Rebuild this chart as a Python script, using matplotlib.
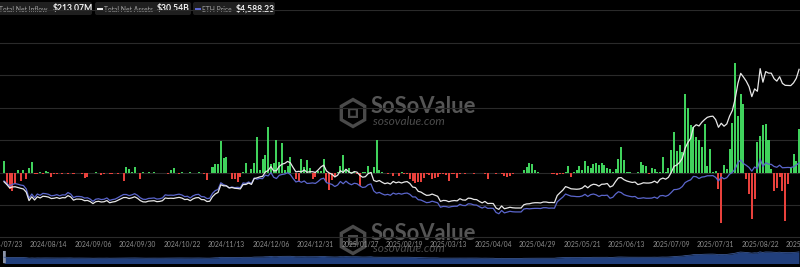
import matplotlib
matplotlib.use("Agg")
import matplotlib.pyplot as plt
import matplotlib.transforms as mtransforms
from matplotlib.patches import FancyBboxPatch, Rectangle, RegularPolygon

# ---------------- data ----------------
# daily total net inflow, $M (one value per trading day, 2024/07/23 .. 2025/09/12)
flows = [
    107, -113, -152, -163, -98, 27, -77, 25, -58, 46,
    98, -12, -8, 5, -6, 22, 8, -40, -10, -6,
    3, -5, -4, -8, 2, -5, -4, 3, -6, -43,
    -37, -2, 3, 5, -3, -15, -5, 3, -9, -5,
    -3, -6, -4, -77, 58, 40, 5, 55, 2, -52,
    8, 4, 6, 2, 8, -3, 3, 4, 2, -10,
    25, 43, 4, -5, 10, -3, 3, 5, 2, 4,
    5, 1, -5, -63, 0, 52, 80, 86, 295, 136,
    147, -3, -60, -55, -81, -40, 5, 91, 3, 40,
    91, 333, 24, 133, 168, 428, 84, 95, 306, 102,
    274, 24, 60, 146, 3, -60, -75, 131, 54, 117,
    48, -55, -36, 15, 20, 129, -87, -159, -68, -40,
    5, 60, 166, 40, 45, 5, 10, -10, -117, 10,
    5, 68, 10, 55, 308, 25, 10, 4, -8, 3,
    -25, 2, -25, 5, -5, -8, -55, -70, -95, -85,
    -80, -50, -10, -15, -55, -50, -40, -8, -5, -15,
    -70, -10, -5, -50, -5, 3, -5, -3, 2, -8,
    -4, 3, -3, -6, -52, -4, 3, -6, -3, -10,
    -30, -33, -25, -5, 4, 2, 3, 25, 55, 92,
    80, 30, 5, -4, 2, -3, 3, -12, -10, -15,
    -8, -12, 5, 62, -37, 8, 25, 60, 30, 110,
    60, 45, 82, 88, 78, 92, 70, 50, 40, 5,
    40, 125, 240, 120, 5, 8, 3, -3, 5, 100,
    77, 62, -8, 46, 40, 5, 10, 148, 8, 45,
    211, 383, 205, 259, 192, 727, 602, 440, 420, 330,
    300, 240, 453, 65, 219, 6, 17, -152, -465, 73,
    35, 222, 461, 1019, 524, 729, 640, -59, -197, -422,
    -240, 288, 338, 444, 455, 307, 39, -165, -135, -38,
    -167, -447, -97, 44, 172, 113, 406,
]

# total net assets, $B
assets = [
    9.92, 9.42, 8.81, 8.96, 9.00, 8.86, 8.72, 8.58, 8.01, 6.46,
    7.16, 6.57, 7.16, 6.94, 7.26, 7.21, 7.10, 6.84, 6.89, 7.02,
    6.84, 7.00, 6.97, 7.37, 7.13, 6.54, 6.73, 6.73, 6.68, 6.44,
    6.49, 6.28, 5.91, 6.25, 6.33, 6.20, 6.25, 6.47, 6.07, 6.20,
    6.28, 6.52, 6.78, 7.02, 7.02, 6.84, 6.97, 7.16, 6.89, 6.47,
    6.23, 6.20, 6.36, 6.39, 6.44, 6.26, 6.31, 6.44, 6.94, 6.86,
    6.89, 6.86, 6.97, 7.05, 6.92, 6.65, 6.71, 6.44, 6.78, 6.97,
    7.02, 6.65, 6.63, 6.29, 6.34, 7.18, 7.69, 7.96, 9.37, 9.17,
    9.16, 8.78, 8.86, 8.72, 8.68, 8.60, 9.41, 9.42, 9.68, 9.43,
    10.50, 10.63, 10.81, 10.90, 11.71, 11.98, 12.69, 11.91, 11.94, 12.72,
    13.15, 13.29, 13.65, 13.39, 12.52, 11.73, 11.83, 11.73, 12.08, 11.66,
    11.76, 11.76, 11.62, 12.08, 12.64, 12.96, 11.90, 11.52, 11.28, 10.80,
    11.11, 11.94, 11.62, 12.21, 11.75, 11.47, 11.79, 11.68, 11.10, 10.75,
    10.85, 11.41, 11.62, 10.16, 9.96, 10.15, 9.82, 9.56, 9.71, 9.49,
    9.97, 9.72, 9.87, 9.69, 9.87, 9.95, 9.60, 8.95, 8.85, 8.16,
    8.02, 7.69, 7.42, 7.46, 7.66, 7.45, 7.25, 6.32, 6.49, 6.46,
    6.26, 6.40, 6.47, 6.41, 6.81, 6.57, 6.54, 6.91, 6.87, 6.67,
    6.64, 6.31, 6.04, 6.31, 5.92, 5.95, 5.92, 5.10, 4.84, 5.48,
    4.96, 5.09, 5.23, 5.14, 5.10, 5.10, 5.10, 5.70, 5.85, 5.88,
    6.01, 6.07, 6.07, 6.03, 6.20, 6.20, 6.10, 6.12, 6.08, 7.39,
    7.90, 8.37, 9.03, 8.85, 8.62, 8.59, 8.54, 8.59, 8.76, 9.20,
    8.80, 9.24, 9.46, 9.39, 9.11, 9.46, 9.48, 9.60, 8.95, 9.18,
    9.97, 10.63, 10.69, 10.30, 10.06, 9.91, 9.79, 9.87, 9.40, 9.53,
    9.73, 9.68, 9.68, 9.77, 10.03, 9.71, 10.36, 10.59, 10.39, 10.73,
    11.61, 12.74, 12.99, 13.45, 14.22, 16.06, 17.12, 17.89, 19.93, 20.38,
    20.15, 20.83, 21.32, 21.74, 21.89, 21.95, 21.31, 19.91, 20.65, 20.11,
    20.53, 21.96, 23.00, 25.11, 27.97, 29.81, 29.12, 28.37, 27.37, 25.54,
    26.95, 26.52, 30.67, 28.19, 30.13, 29.86, 29.84, 28.84, 28.38, 29.19,
    27.97, 27.61, 27.58, 27.56, 28.06, 28.90, 30.54,
]

# ETH price, $
price = [
    3480, 3340, 3170, 3270, 3320, 3280, 3230, 3200, 2990, 2420,
    2680, 2460, 2680, 2600, 2720, 2700, 2660, 2570, 2590, 2640,
    2570, 2630, 2620, 2770, 2680, 2460, 2530, 2530, 2510, 2430,
    2450, 2370, 2230, 2360, 2390, 2340, 2360, 2440, 2290, 2340,
    2370, 2460, 2560, 2650, 2650, 2580, 2630, 2700, 2600, 2450,
    2360, 2350, 2410, 2420, 2440, 2370, 2390, 2440, 2630, 2600,
    2610, 2600, 2640, 2670, 2620, 2520, 2540, 2440, 2570, 2640,
    2660, 2520, 2510, 2400, 2420, 2720, 2890, 2960, 3370, 3250,
    3190, 3060, 3110, 3070, 3090, 3070, 3360, 3330, 3420, 3320,
    3660, 3590, 3640, 3620, 3840, 3790, 3990, 3710, 3630, 3830,
    3880, 3910, 3990, 3880, 3630, 3420, 3470, 3400, 3480, 3330,
    3340, 3360, 3330, 3450, 3600, 3650, 3380, 3320, 3270, 3140,
    3230, 3450, 3310, 3470, 3330, 3250, 3340, 3310, 3180, 3080,
    3110, 3250, 3300, 2870, 2730, 2780, 2690, 2620, 2660, 2600,
    2740, 2670, 2720, 2670, 2720, 2740, 2660, 2500, 2500, 2330,
    2310, 2230, 2150, 2170, 2240, 2190, 2140, 1870, 1920, 1910,
    1870, 1910, 1930, 1930, 2050, 1980, 1970, 2080, 2070, 2010,
    2000, 1900, 1820, 1900, 1800, 1810, 1800, 1550, 1470, 1670,
    1520, 1570, 1620, 1590, 1580, 1580, 1580, 1760, 1790, 1770,
    1790, 1800, 1800, 1790, 1840, 1840, 1810, 1820, 1810, 2200,
    2350, 2490, 2680, 2610, 2550, 2540, 2520, 2520, 2560, 2660,
    2530, 2640, 2680, 2630, 2530, 2600, 2590, 2610, 2420, 2480,
    2680, 2820, 2770, 2640, 2580, 2540, 2510, 2530, 2410, 2420,
    2450, 2420, 2420, 2430, 2490, 2410, 2570, 2590, 2540, 2610,
    2770, 2950, 2960, 3010, 3140, 3380, 3480, 3550, 3760, 3740,
    3630, 3720, 3740, 3800, 3800, 3810, 3700, 3480, 3720, 3610,
    3680, 3900, 4000, 4220, 4600, 4770, 4550, 4440, 4310, 4080,
    4340, 4230, 4830, 4370, 4600, 4510, 4500, 4370, 4320, 4450,
    4290, 4300, 4310, 4300, 4350, 4460, 4588.23,
]

tick_labels = ["2024/07/23", "2024/08/14", "2024/09/06", "2024/09/30", "2024/10/22",
               "2024/11/13", "2024/12/06", "2024/12/31", "2025/01/27", "2025/02/19",
               "2025/03/13", "2025/04/04", "2025/04/29", "2025/05/21", "2025/06/13",
               "2025/07/09", "2025/07/31", "2025/08/22", "2025/09/16"]
tick_step = 16

legend_items = [("Total Net Inflow", "$213.07M"), ("Total Net Assets", "$30.54B"),
                ("ETH Price", "$4,588.23")]

# ---------------- style ----------------
BG = "#000000"
GREEN = "#40d25c"
RED = "#e8413c"
WHITE_LINE = "#e8e8e8"
BLUE_LINE = "#5b66cc"
GRID = "#2a2a2a"
FONT = ["Lato", "DejaVu Sans"]

W, H = 800, 267
fig = plt.figure(figsize=(W / 100, H / 100), dpi=100, facecolor=BG)


def fy(py):
    return 1 - py / H


# background overlay in pixel coordinates (legend, watermark)
bg = fig.add_axes([0, 0, 1, 1], zorder=0)
bg.set_xlim(0, W)
bg.set_ylim(H, 0)
bg.axis("off")
bg.set_facecolor(BG)

# watermarks
for dy in (0, 127):
    bg.add_patch(RegularPolygon((353, 113 + dy), 6, radius=13.5, orientation=0,
                                fill=False, edgecolor="#4a4a4a", lw=2.4))
    bg.add_patch(RegularPolygon((353, 113 + dy), 4, radius=5.5, orientation=0.785,
                                fill=False, edgecolor="#4a4a4a", lw=1.6))
    bg.text(371, 106.5 + dy, "SoSoValue", fontsize=15.8, fontweight="bold",
            color="#555555", family=FONT, ha="left", va="center")
    bg.text(373, 121.5 + dy, "sosovalue.com", fontsize=8.6, style="italic",
            color="#4c4c4c", family=FONT, ha="left", va="center")

# legend boxes
boxes = [(-4, 92), (95, 191), (193, 275)]
for (x0, x1) in boxes:
    bg.add_patch(FancyBboxPatch((x0, 2), x1 - x0, 13,
                                boxstyle="round,pad=0,rounding_size=2",
                                facecolor="#1f1f1f", edgecolor="none"))
lab_x = [-1, 104.5, 202.5]
val_x = [52.5, 157, 236]
dash_cols = [None, WHITE_LINE, BLUE_LINE]
for k, (lab, val) in enumerate(legend_items):
    bg.text(lab_x[k], 9, lab, fontsize=4.9, color="#a3a3a3", family=FONT,
            ha="left", va="center")
    bg.text(val_x[k], 9, val, fontsize=6.2, color="#f2f2f2", fontweight="bold",
            family=FONT, ha="left", va="center")
    if dash_cols[k]:
        bg.add_patch(Rectangle((lab_x[k] - 7.5, 7.8), 5.5, 2.4,
                               facecolor=dash_cols[k], edgecolor="none"))

# ---------------- main chart ----------------
ax = fig.add_axes([0, fy(237), 1, (237 - 10) / H], zorder=1)
ax.set_facecolor("none")
n = len(flows)
x = list(range(n))
ax.set_xlim(-4 / 2.78, 796 / 2.78)
ax.set_ylim(-590.8, 1504.6)
ax.set_yticks([-300, 0, 300, 600, 900, 1200, 1500])
ax.grid(axis="y", color=GRID, lw=0.8, zorder=0)
ax.set_axisbelow(True)
ax.tick_params(length=0, labelleft=False, labelbottom=False)
for s in ("top", "left", "right"):
    ax.spines[s].set_visible(False)
ax.spines["bottom"].set_color(GRID)
ax.spines["bottom"].set_linewidth(0.8)
ax.set_xticks([])

bar_colors = [GREEN if v >= 0 else RED for v in flows]
ax.bar(x, flows, width=0.72, color=bar_colors, linewidth=0, zorder=2)

ax3 = ax.twinx()
ax3.set_ylim(43, 13969)
ax3.plot(x, price, color=BLUE_LINE, lw=0.9, zorder=3)
ax3.axis("off")

ax2 = ax.twinx()
ax2.set_ylim(-0.22, 41.43)
ax2.plot(x, assets, color=WHITE_LINE, lw=0.9, zorder=4)
ax2.axis("off")

# x tick labels
trans = mtransforms.blended_transform_factory(ax.transData, fig.transFigure)
for k, lab in enumerate(tick_labels):
    ax.text(k * tick_step, fy(244.5), lab, transform=trans, fontsize=4.9,
            color="#8e8e8e", family=FONT, ha="center", va="center", clip_on=False)

# ---------------- navigator ----------------
nav = fig.add_axes([3 / W, fy(263.5), 797 / W, 13 / H], zorder=1)
nav.set_facecolor("#1c2946")
nav.set_xlim(-0.4, n - 0.6)
nav.set_ylim(-14.25, 35.75)
nav.fill_between(x, -14.25, assets, color="#213f7c", lw=0)
nav.plot(x, assets, color="#3a5690", lw=0.6)
nav.axis("off")
nav.add_patch(FancyBboxPatch((-0.4, -13), 1.0, 47, boxstyle="round,pad=0,rounding_size=0.3",
                             facecolor="#8d96aa", edgecolor="none",
                             transform=nav.transData, clip_on=False))

fig.savefig("out.png", dpi=100, facecolor=BG)
